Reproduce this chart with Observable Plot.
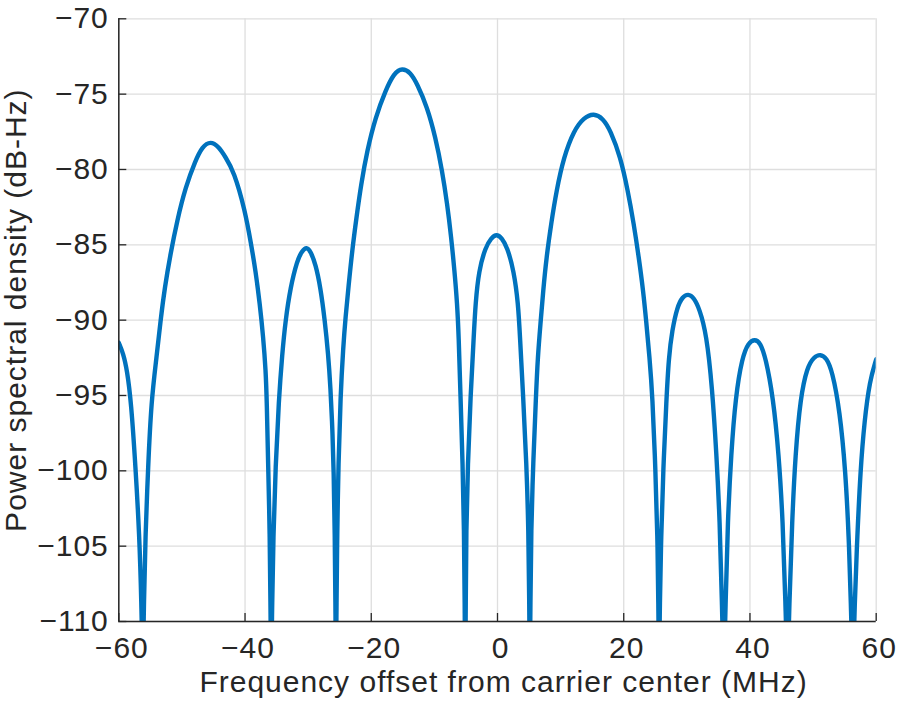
<!DOCTYPE html>
<html>
<head>
<meta charset="utf-8">
<script src="https://cdn.jsdelivr.net/npm/d3@7"></script>
<script src="https://cdn.jsdelivr.net/npm/@observablehq/plot@0.6"></script>
<style>
html, body { margin: 0; padding: 0; background: #fff; }
#chart svg text { letter-spacing: 1px; }
</style>
</head>
<body>
<div id="chart"></div>
<script>
// Frequency offset (MHz) and power spectral density (dB-Hz).
// Values below -110 mark the nulls, which run off the bottom of the axes.
const freqMHz = [
  -60, -59.3, -58.7, -58.05, -57.35, -56.75, -56.42, -56.2,
  -56.02, -55.77, -55.36, -54.85, -54.0, -53.39, -52.71, -51.81, -50.75, -49.43, -47.85, -46.8, -45.47, -44.15, -43.1, -41.78, -40.0, -39.02, -38.34, -37.66, -37.12, -36.72, -36.55, -36.33, -36.08, -35.98, -35.85,
  -35.7, -35.5, -35.17, -34.65, -34.11, -33.59, -32.8, -31.74, -31.0, -30.25, -29.6, -28.84, -28.05, -27.36, -26.83, -26.46, -26.15, -25.95, -25.78, -25.68, -25.6,
  -25.5, -25.4, -25.2, -24.88, -24.45, -24.08, -23.56, -23.02, -22.34, -21.6, -20.65, -19.33, -17.75, -16.4, -15.1, -13.8, -12.73, -11.14, -9.83, -8.77, -7.97, -7.34, -6.82, -6.39, -6.15, -5.86, -5.52, -5.3, -5.2, -5.12,
  -5.02, -4.96, -4.7, -4.28, -3.75, -3.49, -2.96, -1.9, -1.0, -0.16, 0.7, 1.53, 2.58, 3.28, 3.55, 4.07, 4.59, 4.91, 5.03, 5.12,
  5.22, 5.33, 5.65, 6.1, 6.38, 6.81, 7.24, 7.76, 8.5, 9.35, 10.5, 12.09, 13.7, 15.25, 16.7, 17.9, 19.48, 20.64, 21.59, 22.38, 23.08, 23.6, 24.08, 24.55, 25.03, 25.35, 25.48, 25.6,
  25.72, 25.93, 26.25, 26.77, 27.14, 27.67, 28.46, 29.3, 30.22, 31.1, 32.0, 33.1, 34.01, 34.69, 35.22, 35.55, 35.85,
  36.15, 36.48, 37.02, 37.71, 38.77, 39.75, 40.76, 41.65, 42.46, 43.67, 44.56, 45.2, 45.62, 45.94,
  46.25, 46.68, 47.2, 48.0, 49.06, 50.1, 51.17, 52.1, 53.02, 54.23, 55.13, 55.66, 55.98, 56.3,
  56.6, 57.0, 57.5, 58.14, 58.98, 60
];
const psdDb = [
  -91.5, -92.2, -93.3, -95.4, -99.75, -104.2, -108.6, -114,
  -108.6, -104.2, -99.75, -95.33, -92.4, -90.02, -87.81, -85.59, -83.38, -81.17, -79.4, -78.5, -78.1, -78.5, -79.18, -80.1, -82.7, -85.0, -86.7, -88.91, -91.13, -93.34, -95.4, -99.75, -104.2, -108.6, -114,
  -108.6, -104.2, -99.75, -95.3, -92.23, -90.02, -87.81, -86.04, -85.42, -85.12, -85.45, -86.26, -87.81, -90.02, -92.23, -94.45, -97.3, -100, -104.2, -108.6, -114,
  -108.6, -104.2, -99.5, -95.11, -91.8, -89.8, -87.58, -85.37, -83.16, -80.95, -78.74, -76.53, -74.76, -73.6, -73.26, -73.55, -74.31, -75.86, -77.86, -80.07, -82.28, -84.49, -86.7, -88.91, -91.0, -95.11, -99.53, -103.95, -108.6, -114,
  -108.6, -103.95, -99.53, -95.11, -91.0, -88.91, -86.7, -85.15, -84.55, -84.27, -84.55, -85.15, -86.7, -88.91, -91.0, -95.11, -99.53, -103.95, -108.6, -114,
  -108.6, -103.95, -99.53, -95.0, -92.45, -90.24, -88.03, -85.82, -83.6, -81.39, -79.18, -77.41, -76.55, -76.27, -76.6, -77.41, -79.18, -81.39, -83.6, -85.82, -88.03, -90.24, -92.45, -95.0, -99.97, -104.4, -108.6, -114,
  -108.6, -104.4, -99.97, -95.2, -92.45, -90.68, -89.14, -88.45, -88.25, -88.5, -89.25, -90.9, -94.45, -98.87, -103.29, -108.6, -114,
  -108.6, -103.29, -98.87, -95.11, -92.45, -91.5, -91.25, -91.5, -92.45, -95.11, -98.87, -103.29, -108.6, -114,
  -108.6, -103.29, -98.87, -95.11, -93.12, -92.45, -92.25, -92.5, -93.34, -96.0, -99.97, -104.4, -108.6, -114,
  -108.6, -104.4, -99.97, -96.66, -94.0, -92.6
];
const xTickValues = [-60, -40, -20, 0, 20, 40, 60];
const yTickValues = [-110, -105, -100, -95, -90, -85, -80, -75, -70];
const xLabel = "Frequency offset from carrier center (MHz)";
const yLabel = "Power spectral density (dB-Hz)";

const rows = freqMHz.map((f, i) => ({f, p: psdDb[i]}));
const fmt = d => d < 0 ? "\u2212" + Math.abs(d) : String(d);
const axisColor = "#262626";
const gridColor = "#dedede";

const chart = Plot.plot({
  width: 898,
  height: 703,
  marginLeft: 118.3,
  marginRight: 22.3,
  marginTop: 18.3,
  marginBottom: 82,
  style: {fontFamily: "'Liberation Sans', Arial, Helvetica, sans-serif", fontSize: "30px", color: axisColor, background: "#fff"},
  x: {domain: [-60, 60]},
  y: {domain: [-110, -70]},
  marks: [
    Plot.gridX(xTickValues, {stroke: gridColor, strokeOpacity: 1, strokeWidth: 1.3}),
    Plot.gridY(yTickValues, {stroke: gridColor, strokeOpacity: 1, strokeWidth: 1.3}),
    Plot.line(rows, {x: "f", y: "p", stroke: "#0072BD", strokeWidth: 4.4, curve: "basis", clip: true}),
    Plot.ruleX(xTickValues, {stroke: axisColor, strokeWidth: 1.3, insetTop: 594.7}),
    Plot.ruleY(yTickValues, {stroke: axisColor, strokeWidth: 1.3, insetRight: 749.4}),
    Plot.ruleX([-60], {stroke: axisColor, strokeWidth: 1.5}),
    Plot.ruleY([-110], {stroke: axisColor, strokeWidth: 1.5}),
    Plot.axisX(xTickValues, {tickSize: 0, tickPadding: 15, tickFormat: fmt, label: null, fontSize: 30, dx: 3, fill: axisColor}),
    Plot.axisY(yTickValues, {tickSize: 0, tickPadding: 10, tickFormat: fmt, label: null, fontSize: 30, fill: axisColor}),
    Plot.text([xLabel], {text: d => d, frameAnchor: "bottom", lineAnchor: "middle", textAnchor: "middle", dy: 61, dx: 6, fontSize: 30, fill: axisColor}),
    Plot.text([yLabel], {text: d => d, frameAnchor: "left", lineAnchor: "middle", textAnchor: "middle", rotate: -90, dx: -102, dy: -10, fontSize: 30, fill: axisColor})
  ]
});
document.getElementById("chart").appendChild(chart);
</script>
</body>
</html>
